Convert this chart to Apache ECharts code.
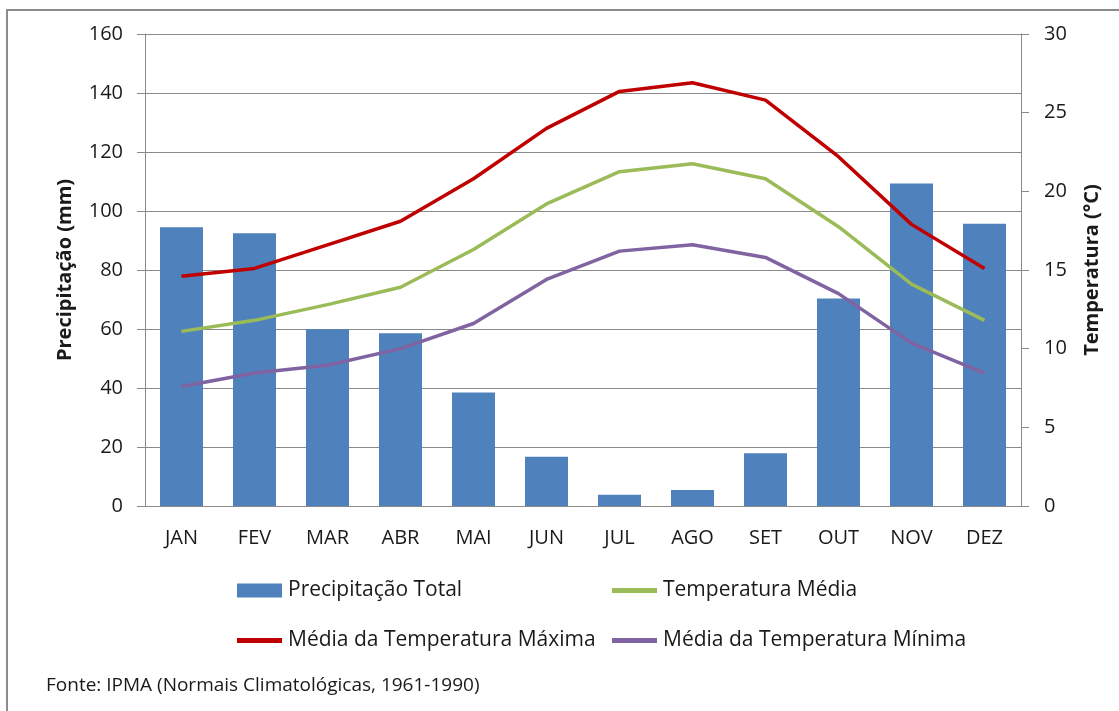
<!DOCTYPE html>
<html>
<head>
<meta charset="utf-8">
<script src="https://cdn.jsdelivr.net/npm/echarts@6/dist/echarts.min.js"></script>
<style>
html,body{margin:0;padding:0;background:#fff;}
#chart{width:1119px;height:711px;}
</style>
</head>
<body>
<div id="chart"></div>
<script>
const months = ['JAN','FEV','MAR','ABR','MAI','JUN','JUL','AGO','SET','OUT','NOV','DEZ'];
const precipitacao = [94.5, 92.5, 59.9, 58.6, 38.5, 16.7, 3.8, 5.4, 17.9, 70.3, 109.3, 95.7];
const tempMedia = [11.1, 11.8, 12.8, 13.9, 16.3, 19.2, 21.25, 21.75, 20.8, 17.75, 14.1, 11.8];
const tempMax = [14.6, 15.1, 16.6, 18.1, 20.8, 24.0, 26.35, 26.9, 25.8, 22.2, 17.9, 15.1];
const tempMin = [7.6, 8.45, 8.95, 10.0, 11.6, 14.4, 16.2, 16.6, 15.8, 13.5, 10.35, 8.45];
const leftTicks = [0, 160, 20];
const rightTicks = [0, 30, 5];

const names = ['Precipitação Total','Temperatura Média','Média da Temperatura Máxima','Média da Temperatura Mínima'];
const font = 'Open Sans, Lato, sans-serif';
const gridColor = '#8a8a8a';
const textColor = '#1a1a1a';

const chart = echarts.init(document.getElementById('chart'));

function legendAt(name, left, top, isBar) {
  return {
    data: [name],
    left: left, top: top,
    orient: 'horizontal',
    itemWidth: 45,
    itemHeight: isBar ? 14 : 5,
    icon: 'rect',
    itemGap: 0,
    padding: 0,
    selectedMode: false,
    textStyle: {fontFamily: font, fontSize: 21, color: textColor, padding: [0,0,0,1]}
  };
}

chart.setOption({
  animation: false,
  backgroundColor: '#fff',
  graphic: [
    {type:'rect', shape:{x:7, y:10, width:1130, height:720}, style:{fill:'none', stroke:'#8c8c8c', lineWidth:2}, silent:true},
    {type:'text', left:46, top:676, style:{text:'Fonte: IPMA (Normais Climatológicas, 1961-1990)', fontFamily:font, fontSize:19, fill:textColor}}
  ],
  legend: [
    legendAt(names[0], 237, 580, true),
    legendAt(names[1], 612, 580, false),
    legendAt(names[2], 237, 630, false),
    legendAt(names[3], 612, 630, false)
  ],
  grid: {left:145, right:98, top:34, bottom:205, containLabel:false},
  xAxis: {
    type:'category', data: months,
    axisLine:{show:true, lineStyle:{color:gridColor, width:1}},
    axisTick:{show:false},
    axisLabel:{fontFamily:font, fontSize:20, color:textColor, margin:22}
  },
  yAxis: [
    {
      type:'value', min:leftTicks[0], max:leftTicks[1], interval:leftTicks[2],
      name:'Precipitação (mm)', nameLocation:'middle', nameGap:70, nameRotate:90,
      nameTextStyle:{fontFamily:font, fontSize:20, fontWeight:'bold', color:textColor},
      axisLine:{show:true, lineStyle:{color:gridColor}},
      axisTick:{show:true, length:8, lineStyle:{color:gridColor}},
      splitLine:{show:true, lineStyle:{color:gridColor, width:1}},
      axisLabel:{fontFamily:font, fontSize:20, color:textColor, margin:22}
    },
    {
      type:'value', min:rightTicks[0], max:rightTicks[1], interval:rightTicks[2], position:'right',
      name:'Temperatura (°C)', nameLocation:'middle', nameGap:61, nameRotate:90,
      nameTextStyle:{fontFamily:font, fontSize:20, fontWeight:'bold', color:textColor},
      axisLine:{show:true, lineStyle:{color:gridColor}},
      axisTick:{show:true, length:8, lineStyle:{color:gridColor}},
      splitLine:{show:false},
      axisLabel:{fontFamily:font, fontSize:20, color:textColor, margin:23}
    }
  ],
  series: [
    {name:names[0], type:'bar', data:precipitacao, yAxisIndex:0, barWidth:43, color:'#4f81bd', itemStyle:{color:'#4f81bd'}},
    {name:names[1], type:'line', data:tempMedia, yAxisIndex:1, symbol:'none', color:'#9bbb59', lineStyle:{color:'#9bbb59', width:3.5}, itemStyle:{color:'#9bbb59'}},
    {name:names[2], type:'line', data:tempMax, yAxisIndex:1, symbol:'none', color:'#c00000', lineStyle:{color:'#c00000', width:3.5}, itemStyle:{color:'#c00000'}},
    {name:names[3], type:'line', data:tempMin, yAxisIndex:1, symbol:'none', color:'#8064a2', lineStyle:{color:'#8064a2', width:3.5}, itemStyle:{color:'#8064a2'}}
  ]
});
</script>
</body>
</html>
